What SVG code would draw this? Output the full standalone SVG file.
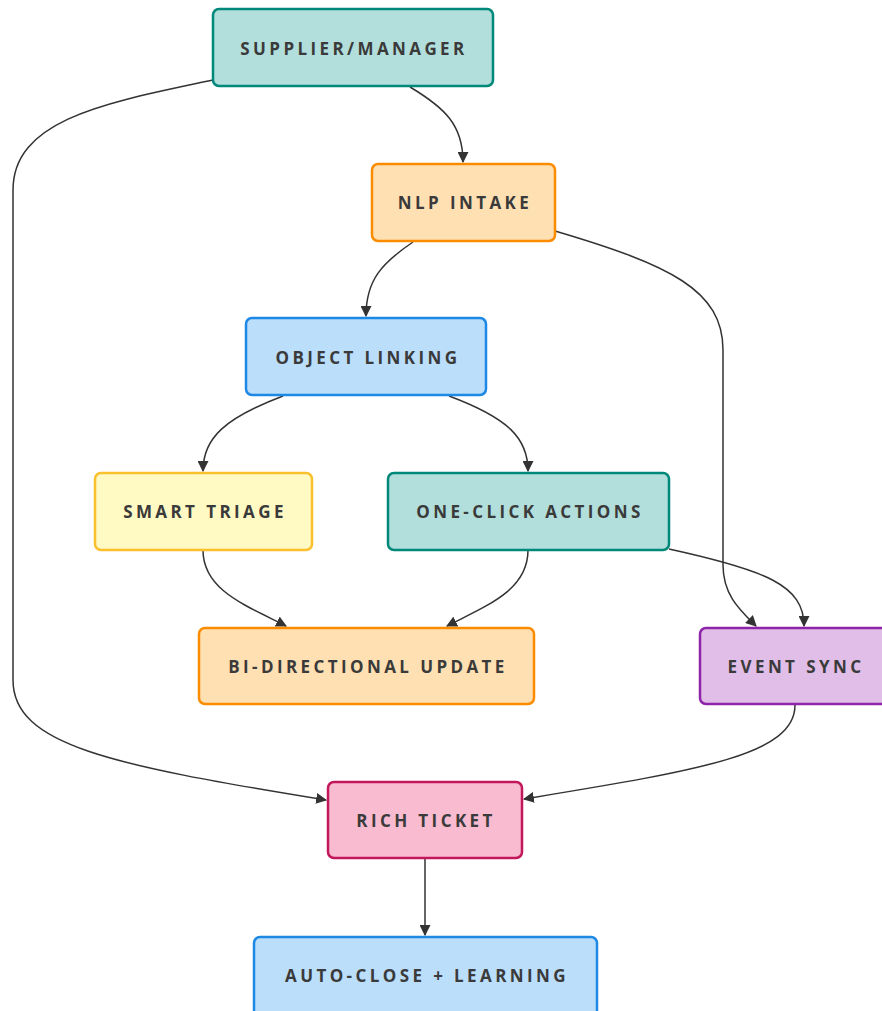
<svg xmlns="http://www.w3.org/2000/svg" width="882" height="1011" viewBox="0 0 882 1011">
<defs>
<marker id="arr" viewBox="0 0 10 10" refX="9" refY="5" markerWidth="11" markerHeight="11" markerUnits="userSpaceOnUse" orient="auto">
<path d="M0,0 L10,5 L0,10 z" fill="#333"/>
</marker>
<style>
.n rect{stroke-width:2.5}
.n text{font-family:"Open Sans","DejaVu Sans",sans-serif;font-weight:700;font-size:17px;letter-spacing:3.4px;fill:#3a3a3a;text-anchor:middle;dominant-baseline:central}
.teal{fill:#b2dfdb;stroke:#00897b}
.orange{fill:#ffe0b2;stroke:#fb8c00}
.blue{fill:#bbdefb;stroke:#1e88e5}
.yellow{fill:#fff9c4;stroke:#fbc02d}
.purple{fill:#e1bee7;stroke:#8e24aa}
.pink{fill:#f8bbd0;stroke:#c2185b}
#edges path{fill:none;stroke:#333;stroke-width:1.5;marker-end:url(#arr)}
</style>
</defs>
<rect width="882" height="1011" fill="#fff"/>
<g id="edges">
<path d="M410,87 C445,108 463,125 463,162"/>
<path d="M213,80 C110,102 13,118 13,190 L13,680 C13,745 110,765 326,800"/>
<path d="M413,242 C382,263 366,280 366,316"/>
<path d="M555,231 C670,265 723,290 723,350 L723,565 C723,595 740,610 756,626"/>
<path d="M283,396 C225,418 203,438 203,471"/>
<path d="M449,396 C508,418 528,438 528,471"/>
<path d="M203,550 C203,590 245,605 286,626"/>
<path d="M528,550 C528,590 488,605 447,626"/>
<path d="M669,549 C765,570 804,585 804,626"/>
<path d="M795,705 C795,755 700,770 524,799"/>
<path d="M425,858 L425,935"/>
</g>
<g id="supplier" class="n"><rect class="teal" x="213" y="9" width="280" height="77" rx="6"/><text x="354" y="48">SUPPLIER/MANAGER</text></g>
<g id="nlp" class="n"><rect class="orange" x="372" y="164" width="183" height="77" rx="6"/><text x="465" y="202">NLP INTAKE</text></g>
<g id="linking" class="n"><rect class="blue" x="246" y="318" width="240" height="77" rx="6"/><text x="368" y="357">OBJECT LINKING</text></g>
<g id="triage" class="n"><rect class="yellow" x="95" y="473" width="217" height="77" rx="6"/><text x="205" y="511">SMART TRIAGE</text></g>
<g id="oneclick" class="n"><rect class="teal" x="388" y="473" width="281" height="77" rx="6"/><text x="530" y="511">ONE-CLICK ACTIONS</text></g>
<g id="bidir" class="n"><rect class="orange" x="199" y="628" width="335" height="76" rx="6"/><text x="368" y="666">BI-DIRECTIONAL UPDATE</text></g>
<g id="eventsync" class="n"><rect class="purple" x="700" y="628" width="190" height="76" rx="6"/><text x="796" y="666">EVENT SYNC</text></g>
<g id="richticket" class="n"><rect class="pink" x="328" y="782" width="194" height="76" rx="6"/><text x="426" y="820">RICH TICKET</text></g>
<g id="autoclose" class="n"><rect class="blue" x="254" y="937" width="343" height="80" rx="6"/><text x="427" y="975">AUTO-CLOSE + LEARNING</text></g>
</svg>
